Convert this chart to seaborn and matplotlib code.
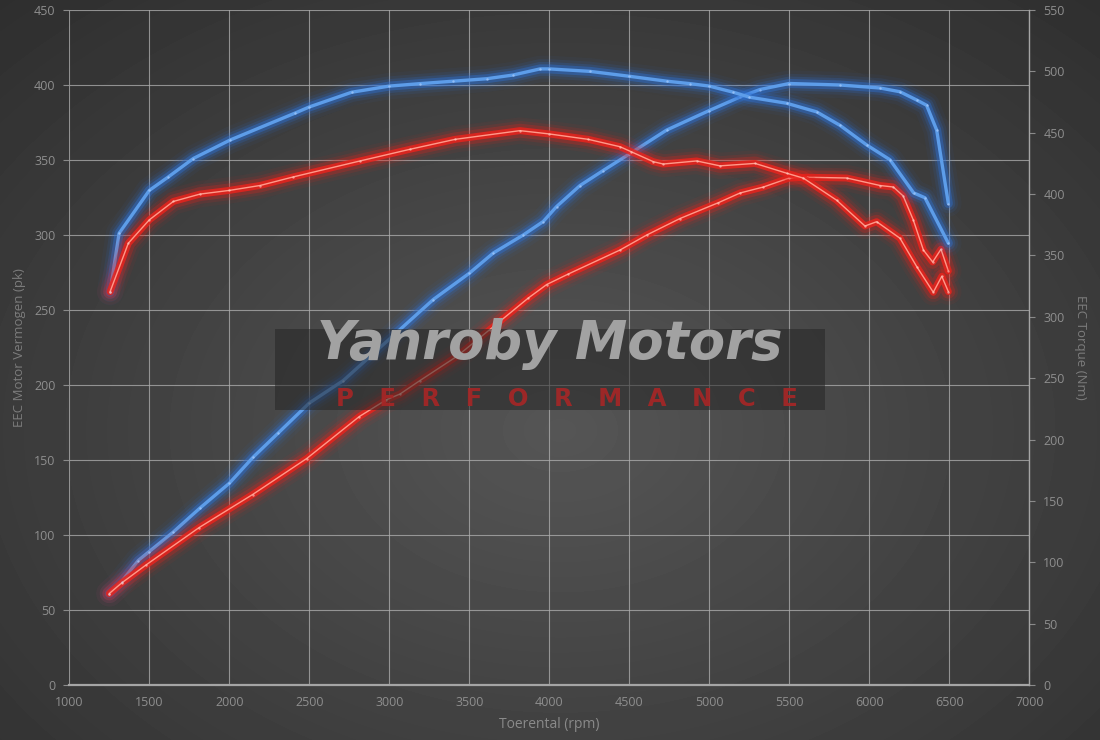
import numpy as np
import pandas as pd
import matplotlib
matplotlib.use("Agg")
import matplotlib.pyplot as plt
import matplotlib.patheffects as pe
from matplotlib.patches import Rectangle
import seaborn as sns

# ---------------- data ----------------
rpm_pow_blue = [1250, 1327, 1431, 1500, 1650, 1817, 2000, 2150, 2306, 2500, 2713, 3067,
                3275, 3500, 3650, 3837, 3962, 4046, 4192, 4337, 4500, 4734, 5000, 5192,
                5317, 5500, 5817, 6067, 6192, 6296, 6358, 6421, 6494]
pow_blue = [61, 69, 83, 89, 102, 118, 134.5, 152, 168, 188, 203, 237,
            257, 274.5, 288, 300, 309, 319, 333, 343, 354, 370, 383, 392,
            397, 401, 400, 398, 395.5, 390, 386.5, 370, 321]

rpm_tq_blue = [1255, 1311, 1500, 1619, 1775, 2004, 2411, 2500, 2765, 3000, 3192, 3400,
               3609, 3773, 3942, 4000, 4254, 4500, 4734, 4879, 5000, 5150, 5250, 5484,
               5671, 5817, 5984, 6129, 6277, 6348, 6494]
tq_blue = [320, 368, 403, 414, 429, 444, 466, 471, 483, 488, 490, 492,
           494, 497, 502, 502, 500, 496, 492, 490, 488, 483, 479, 474,
           467, 456, 440, 428, 401, 397, 360]

rpm_pow_red = [1250, 1327, 1479, 1812, 2146, 2484, 2813, 2979, 3067, 3192, 3421, 3629,
               3869, 3984, 4119, 4442, 4609, 4817, 5056, 5192, 5338, 5500, 5609, 5859,
               6067, 6150, 6212, 6275, 6338, 6396, 6448, 6494]
pow_red = [61, 68, 80, 105, 127, 151, 179, 190, 194, 203, 219, 237,
           258, 267, 274, 290, 300, 311, 321.5, 328, 332, 338, 338.5, 338,
           333, 332, 326, 310, 290, 282, 290.5, 276]

rpm_tq_red = [1255, 1369, 1500, 1650, 1817, 2000, 2192, 2400, 2817, 3129, 3411, 3817,
              4000, 4244, 4442, 4512, 4650, 4712, 4921, 5067, 5286, 5484, 5588, 5796,
              5973, 6046, 6192, 6296, 6400, 6453, 6494]
tq_red = [320.5, 360, 379, 394, 400, 403, 407, 414, 427, 436.5, 444.6, 451.7,
          449, 444.6, 438.6, 434.5, 426.4, 424.5, 427, 423, 425, 417, 413, 395,
          374, 377.5, 364, 341, 320, 333, 320.5]

x_ticks = list(range(1000, 7001, 500))
left_ticks = list(range(0, 451, 50))
right_ticks = list(range(0, 551, 50))

x_label = "Toerental (rpm)"
left_label = "EEC Motor Vermogen (pk)"
right_label = "EEC Torque (Nm)"
brand = "Yanroby Motors"
sub_brand = "PERFORMANCE"

# ---------------- styling ----------------
sns.set_theme(style="dark")
plt.rcParams['font.family'] = ['Open Sans', 'DejaVu Sans']

W, H = 1100, 740
fig = plt.figure(figsize=(W / 100, H / 100), dpi=100)

# radial gradient background
bg = fig.add_axes([0, 0, 1, 1], zorder=-10)
yy, xx = np.mgrid[0:H, 0:W]
d = np.sqrt(((xx - 560) / 720.0) ** 2 + ((yy - 430) / 520.0) ** 2)
img = 0.335 - 0.135 * np.clip(d, 0, 1.2)
bg.imshow(img, cmap="gray", vmin=0, vmax=1, aspect="auto", extent=[0, 1, 0, 1],
          interpolation="bilinear")
bg.set_axis_off()

ax = fig.add_axes([69.3 / W, 55 / H, 960 / W, 675 / H])
ax.set_facecolor("none")
ax2 = ax.twinx()
ax2.set_facecolor("none")


def glow(color, widths, alphas):
    eff = [pe.Stroke(linewidth=w, foreground=color, alpha=a) for w, a in zip(widths, alphas)]
    eff.append(pe.Normal())
    return eff


blue_core, blue_glow = "#5d9de9", "#2d72d8"
red_core, red_glow = "#ff9a8a", "#e8231c"
blue_fx = glow(blue_glow, [19, 14, 10, 6.5], [0.05, 0.10, 0.18, 0.40])
red_fx = glow(red_glow, [19, 14, 10, 5.0], [0.06, 0.12, 0.25, 0.85])


def curve(axis, xs, ys, core, fx, lw, dot):
    df = pd.DataFrame({"rpm": xs, "v": ys})
    sns.lineplot(data=df, x="rpm", y="v", ax=axis, color=core, linewidth=lw,
                 estimator=None, sort=False, path_effects=fx, zorder=5)
    sns.scatterplot(data=df, x="rpm", y="v", ax=axis, color=dot, s=3,
                    linewidth=0, zorder=6, alpha=0.6)


curve(ax, rpm_pow_blue, pow_blue, blue_core, blue_fx, 2.4, "#b8d4ff")
curve(ax, rpm_pow_red, pow_red, red_core, red_fx, 1.0, "#ffd0c8")
curve(ax2, rpm_tq_blue, tq_blue, blue_core, blue_fx, 2.4, "#b8d4ff")
curve(ax2, rpm_tq_red, tq_red, red_core, red_fx, 1.0, "#ffd0c8")

ax.set_xlim(1000, 7000)
ax.set_ylim(0, 450)
ax2.set_ylim(0, 550)
ax.set_xticks(x_ticks)
ax.set_yticks(left_ticks)
ax2.set_yticks(right_ticks)

ax.grid(True, color="#b0b0b0", linewidth=0.8, alpha=0.75)
ax2.grid(False)
ax.set_axisbelow(True)

for a in (ax, ax2):
    for s in a.spines.values():
        s.set_visible(False)
ax.spines["bottom"].set_visible(True)
ax.spines["bottom"].set_color("#a5a5a5")
ax.spines["bottom"].set_linewidth(1.6)
ax2.spines["right"].set_visible(True)
ax2.spines["right"].set_color("#a5a5a5")
ax2.spines["right"].set_linewidth(1.0)

tick_col = "#8e8e8e"
ax.tick_params(axis="x", bottom=True, length=0, pad=8, labelsize=9, labelcolor=tick_col)
ax.tick_params(axis="y", left=True, length=4, width=0.8, color="#8a8a8a", pad=6,
               labelsize=9, labelcolor=tick_col)
ax2.tick_params(axis="y", right=True, length=4, width=0.8, color="#8a8a8a", pad=6,
                labelsize=9, labelcolor=tick_col)

ax.set_xlabel(x_label, color="#8a8a8a", fontsize=10, labelpad=6)
ax.set_ylabel(left_label, color="#7c7c7c", fontsize=9.5, labelpad=6)
ax2.set_ylabel(right_label, color="#7c7c7c", fontsize=9.5, rotation=270, labelpad=16)

# watermark
fig.patches.append(Rectangle((275 / W, 1 - 410 / H), 550 / W, 81 / H,
                             transform=fig.transFigure, facecolor="#262626",
                             alpha=0.55, edgecolor="none", zorder=3))
fig.text(550 / W, 1 - 344 / H, brand, ha="center", va="center", fontsize=38,
         fontweight="bold", fontstyle="italic", color="#a2a2a2",
         family=["DejaVu Sans"], zorder=4)
fig.text(567 / W, 1 - 399 / H, "   ".join(sub_brand), ha="center", va="center",
         fontsize=17.5, fontweight="bold", color="#a82626", family=["DejaVu Sans"],
         alpha=0.9, zorder=4)

fig.savefig("out.png", dpi=100, facecolor=fig.get_facecolor())
